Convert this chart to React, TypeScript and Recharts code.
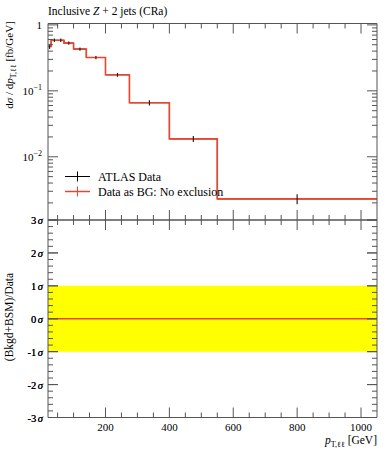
import React from 'react';
import { ComposedChart, Line, Scatter, ErrorBar, Area, XAxis, YAxis } from 'recharts';

// p_T,ll bin edges [GeV]
const binEdges = [20, 30, 50, 70, 100, 140, 200, 275, 400, 550, 1050];
// dsigma/dpT [fb/GeV]
const atlasData = [0.47, 0.585, 0.585, 0.53, 0.43, 0.32, 0.175, 0.066, 0.0187, 0.0023];
const atlasErrors = [0.038, 0.035, 0.035, 0.032, 0.026, 0.019, 0.012, 0.006, 0.002, 0.0004];
const dataAsBG = [0.47, 0.585, 0.585, 0.53, 0.43, 0.32, 0.175, 0.066, 0.0187, 0.0023];
// (Bkgd+BSM)/Data significance per bin
const significance = [0, 0, 0, 0, 0, 0, 0, 0, 0, 0];
const sigmaBand = [-1, 1];

const xTickLabels = [200, 400, 600, 800, 1000];
const decadeTicks = [1, 0.1, 0.01];
const decadeExponents = ['', '\u22121', '\u22122'];
const sigmaTicks = [-3, -2, -1, 0, 1, 2, 3];

const W = 389;
const LEFT = 48;
const RIGHT = 12;
const MAIN_TOP = 23.5;
const MAIN_H = 220;
const RATIO_H = 230;
const RATIO_BOTTOM = 32.5;
const RATIO_PAD = 15; // room above the ratio frame so the 3σ label is not clipped

const AXIS = '#555';
const RED = '#f0432b';
const FONT = '"Liberation Serif", "DejaVu Serif", serif';
const Y_MIN = 1.1e-3;
const Y_MAX = 1.05;
const X_MIN = 20;
const X_MAX = 1050;

const stepPoints = (vals: number[]) =>
  binEdges.map((e, i) => ({ x: e, y: vals[Math.min(i, vals.length - 1)] }));

const centerPoints = atlasData.map((v, i) => ({
  x: (binEdges[i] + binEdges[i + 1]) / 2,
  y: v,
  err: atlasErrors[i],
}));

const bandPoints = [binEdges[0], binEdges[binEdges.length - 1]].map(x => ({ x, band: sigmaBand }));

const xMinorTicks: number[] = [];
for (let v = 50; v <= 1000; v += 50) xMinorTicks.push(v);

const logTicks: number[] = [];
[0.001, 0.01, 0.1].forEach(d => {
  for (let m = 1; m <= 9; m++) {
    const v = +(m * d).toPrecision(3);
    if (v >= Y_MIN && v <= Y_MAX) logTicks.push(v);
  }
});
logTicks.push(1);

const sigmaMinor: number[] = [];
for (let i = -15; i <= 15; i++) sigmaMinor.push(Math.round(i * 2) / 10);

const XTick = (props: any) => {
  const { x, y, payload, side, labels } = props;
  const major = payload.value % 200 === 0;
  const len = major ? 10 : 5;
  const dir = side === 'bottom' ? -1 : 1;
  return (
    <g>
      <line x1={x} x2={x} y1={y} y2={y + dir * len} stroke={AXIS} />
      {labels && major && (
        <text x={x} y={y + 13} textAnchor="middle" fontSize={11} fontFamily={FONT} fill="#000">
          {payload.value}
        </text>
      )}
    </g>
  );
};

const LogTick = (props: any) => {
  const { x, y, payload, side } = props;
  const idx = decadeTicks.findIndex(d => Math.abs(d - payload.value) < 1e-9);
  const major = idx >= 0;
  const len = major ? 10 : 5;
  const dir = side === 'left' ? 1 : -1;
  return (
    <g>
      <line x1={x} x2={x + dir * len} y1={y} y2={y} stroke={AXIS} />
      {side === 'left' && major && (
        <text x={x - 6} y={y + 4} textAnchor="end" fontSize={11} fontFamily={FONT} fill="#000">
          {decadeExponents[idx] === '' ? (
            '1'
          ) : (
            <>
              <tspan>10</tspan>
              <tspan dy={-5} fontSize={8}>{decadeExponents[idx]}</tspan>
            </>
          )}
        </text>
      )}
    </g>
  );
};

const SigmaTick = (props: any) => {
  const { x, y, payload, side } = props;
  const major = sigmaTicks.includes(payload.value);
  const len = major ? 10 : 5;
  const dir = side === 'left' ? 1 : -1;
  return (
    <g>
      <line x1={x} x2={x + dir * len} y1={y} y2={y} stroke={AXIS} />
      {side === 'left' && major && (
        <text x={x - 5} y={y + 4} textAnchor="end" fontSize={10.5} fontFamily={FONT} fill="#000">
          <tspan>{payload.value < 0 ? '-' + Math.abs(payload.value) : payload.value}</tspan>
          <tspan dx={1.5} fontStyle="italic">σ</tspan>
        </text>
      )}
    </g>
  );
};

// axes need a non-zero size to be drawn, so each takes 1px out of the margins
const axisCommon = { tickSize: 0, tickMargin: 0, tickLine: false, axisLine: { stroke: AXIS }, interval: 0 as const };

const MainPanel = () => (
  <ComposedChart
    width={W}
    height={MAIN_H + 1}
    margin={{ top: MAIN_TOP - 1, right: RIGHT - 1, bottom: 0, left: LEFT - 1 }}
  >
    <XAxis
      xAxisId="b" dataKey="x" type="number" domain={[X_MIN, X_MAX]} allowDataOverflow
      ticks={xMinorTicks} height={1} {...axisCommon}
      tick={(p: any) => <XTick {...p} side="bottom" />}
    />
    <XAxis
      xAxisId="t" orientation="top" dataKey="x" type="number" domain={[X_MIN, X_MAX]} allowDataOverflow
      ticks={xMinorTicks} height={1} {...axisCommon}
      tick={(p: any) => <XTick {...p} side="top" />}
    />
    <YAxis
      yAxisId="l" scale="log" type="number" domain={[Y_MIN, Y_MAX]} allowDataOverflow
      ticks={logTicks} width={1} {...axisCommon}
      tick={(p: any) => <LogTick {...p} side="left" />}
    />
    <YAxis
      yAxisId="r" orientation="right" scale="log" type="number" domain={[Y_MIN, Y_MAX]} allowDataOverflow
      ticks={logTicks} width={1} {...axisCommon}
      tick={(p: any) => <LogTick {...p} side="right" />}
    />
    <Line
      xAxisId="b" yAxisId="l" data={stepPoints(atlasData)} dataKey="y" type="stepAfter"
      stroke="#000" strokeWidth={1} dot={false} isAnimationActive={false}
    />
    <Line
      xAxisId="b" yAxisId="l" data={stepPoints(dataAsBG)} dataKey="y" type="stepAfter"
      stroke={RED} strokeWidth={1.6} dot={false} isAnimationActive={false}
    />
    <Scatter
      xAxisId="b" yAxisId="l" data={centerPoints} dataKey="y" isAnimationActive={false}
      shape={() => <g />}
    >
      <ErrorBar dataKey="err" direction="y" width={0} stroke="#222" strokeWidth={1.2} />
    </Scatter>
  </ComposedChart>
);

const RatioPanel = () => (
  <ComposedChart
    width={W}
    height={RATIO_H + RATIO_PAD}
    margin={{ top: RATIO_PAD - 1, right: RIGHT - 1, bottom: RATIO_BOTTOM - 1, left: LEFT - 1 }}
  >
    <XAxis
      xAxisId="b" dataKey="x" type="number" domain={[X_MIN, X_MAX]} allowDataOverflow
      ticks={xMinorTicks} height={1} {...axisCommon}
      tick={(p: any) => <XTick {...p} side="bottom" labels={xTickLabels.includes(p.payload.value)} />}
    />
    <XAxis
      xAxisId="t" orientation="top" dataKey="x" type="number" domain={[X_MIN, X_MAX]} allowDataOverflow
      ticks={xMinorTicks} height={1} {...axisCommon}
      tick={(p: any) => <XTick {...p} side="top" />}
    />
    <YAxis
      yAxisId="l" type="number" domain={[-3, 3]} allowDataOverflow
      ticks={sigmaMinor.concat(sigmaTicks)} width={1} {...axisCommon}
      tick={(p: any) => <SigmaTick {...p} side="left" />}
    />
    <YAxis
      yAxisId="r" orientation="right" type="number" domain={[-3, 3]} allowDataOverflow
      ticks={sigmaMinor.concat(sigmaTicks)} width={1} {...axisCommon}
      tick={(p: any) => <SigmaTick {...p} side="right" />}
    />
    <Area
      xAxisId="b" yAxisId="l" data={bandPoints} dataKey="band" type="linear"
      stroke="none" fill="#ffff00" fillOpacity={1} isAnimationActive={false}
    />
    <Line
      xAxisId="b" yAxisId="l" data={stepPoints(significance)} dataKey="y" type="stepAfter"
      stroke={RED} strokeWidth={1.6} dot={false} isAnimationActive={false}
    />
  </ComposedChart>
);

const Labels = () => (
  <svg width={W} height={450} style={{ position: 'absolute', left: 0, top: 0, pointerEvents: 'none' }}>
    <text x={LEFT} y={15} fontSize={11.5} fontFamily={FONT}>
      Inclusive <tspan fontStyle="italic">Z</tspan> + 2 jets (CRa)
    </text>
    <text transform="rotate(-90)" x={-65} y={13} textAnchor="middle" fontSize={11} fontFamily={FONT}>
      d<tspan fontStyle="italic">σ</tspan> / d<tspan fontStyle="italic">p</tspan>
      <tspan fontSize={8} dy={3}>T,ℓℓ</tspan>
      <tspan dy={-3}> [fb/GeV]</tspan>
    </text>
    <text transform="rotate(-90)" x={-317} y={13} textAnchor="middle" fontSize={11.5} fontFamily={FONT}>
      (Bkgd+BSM)/Data
    </text>
    <text x={W - RIGHT} y={444} textAnchor="end" fontSize={11.5} fontFamily={FONT}>
      <tspan fontStyle="italic">p</tspan>
      <tspan fontSize={8} dy={3}>T,ℓℓ</tspan>
      <tspan dy={-3}> [GeV]</tspan>
    </text>
    <g fontFamily={FONT} fontSize={12}>
      <line x1={65} x2={90} y1={176.5} y2={176.5} stroke="#000" />
      <line x1={77.5} x2={77.5} y1={171.5} y2={181.5} stroke="#000" />
      <text x={98} y={180.5}>ATLAS Data</text>
      <line x1={65} x2={90} y1={191.5} y2={191.5} stroke={RED} strokeWidth={1.5} />
      <line x1={77.5} x2={77.5} y1={186.5} y2={196.5} stroke={RED} />
      <text x={98} y={195.5}>Data as BG: No exclusion</text>
    </g>
  </svg>
);

export default function App() {
  return (
    <div style={{ position: 'absolute', left: 0, top: 0, width: W, height: 450, background: '#fff' }}>
      <div style={{ position: 'absolute', left: 0, top: 0 }}>
        <MainPanel />
      </div>
      <div style={{ position: 'absolute', left: 0, top: MAIN_H - RATIO_PAD }}>
        <RatioPanel />
      </div>
      <Labels />
    </div>
  );
}
